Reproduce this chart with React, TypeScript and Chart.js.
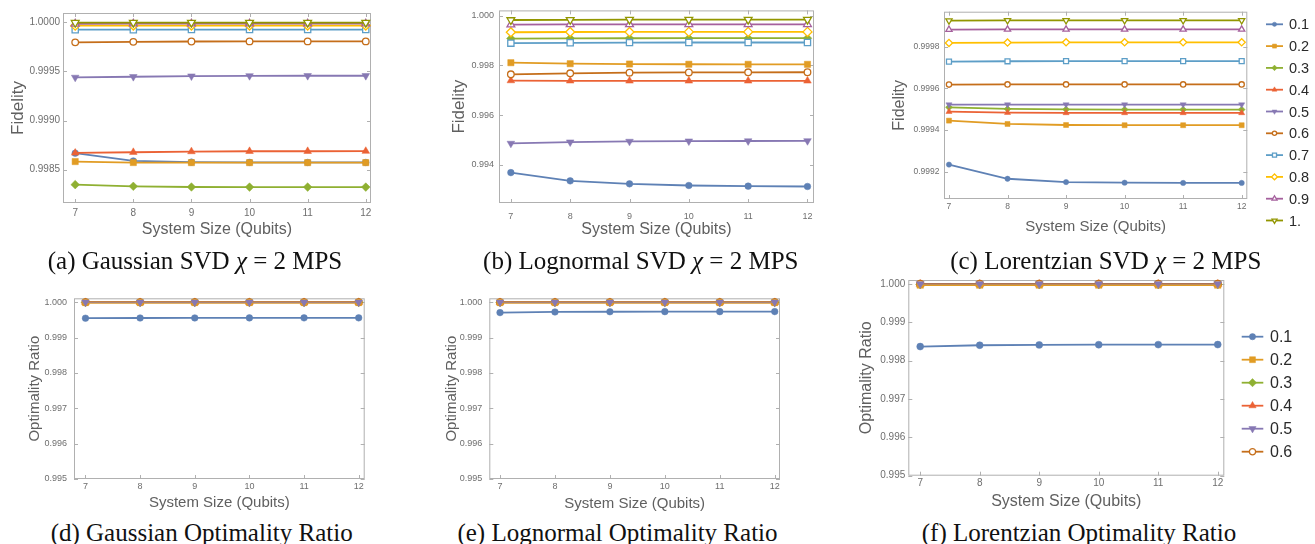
import React, { useEffect, useRef } from 'react';
import { Chart, registerables } from 'chart.js';
Chart.register(...registerables);

// ---------------- data ----------------
const QUBITS = [7, 8, 9, 10, 11, 12];
const X_TICK_LABELS = ['7', '8', '9', '10', '11', '12'];
const SVD_LABELS = ['0.1', '0.2', '0.3', '0.4', '0.5', '0.6', '0.7', '0.8', '0.9', '1.'];
const OPT_LABELS = ['0.1', '0.2', '0.3', '0.4', '0.5', '0.6'];

const GAUSSIAN_SVD = [
  [0.998667, 0.998588, 0.998576, 0.998574, 0.998573, 0.998573],
  [0.998582, 0.998572, 0.998571, 0.998571, 0.998571, 0.998571],
  [0.998347, 0.99833, 0.998323, 0.998322, 0.998322, 0.998322],
  [0.99867, 0.998677, 0.998684, 0.998687, 0.998687, 0.998688],
  [0.999439, 0.999446, 0.999452, 0.999455, 0.999456, 0.999456],
  [0.999796, 0.999801, 0.999805, 0.999806, 0.999806, 0.999806],
  [0.999925, 0.999925, 0.999926, 0.999926, 0.999926, 0.999926],
  [0.999966, 0.999967, 0.999967, 0.999967, 0.999967, 0.999967],
  [0.999985, 0.999986, 0.999986, 0.999986, 0.999986, 0.999986],
  [0.999996, 0.999997, 0.999997, 0.999997, 0.999997, 0.999997],
];
const LOGNORMAL_SVD = [
  [0.993692, 0.99336, 0.99324, 0.993174, 0.993147, 0.993134],
  [0.99811, 0.99807, 0.998057, 0.998048, 0.998045, 0.998044],
  [0.999082, 0.99909, 0.999094, 0.999095, 0.999095, 0.999095],
  [0.997392, 0.997382, 0.997379, 0.997379, 0.997379, 0.997379],
  [0.994864, 0.994917, 0.994944, 0.994957, 0.994963, 0.994968],
  [0.997645, 0.997685, 0.997711, 0.997718, 0.997724, 0.997726],
  [0.998896, 0.998909, 0.998918, 0.998922, 0.998922, 0.998923],
  [0.999335, 0.999345, 0.999348, 0.999349, 0.999349, 0.999349],
  [0.999641, 0.99965, 0.999654, 0.999655, 0.999655, 0.999655],
  [0.999827, 0.999836, 0.99984, 0.999841, 0.999841, 0.999841],
];
const LORENTZIAN_SVD = [
  [0.999234, 0.999166, 0.99915, 0.999147, 0.999146, 0.999146],
  [0.999445, 0.999429, 0.999424, 0.999423, 0.999423, 0.999423],
  [0.999509, 0.999501, 0.999499, 0.999498, 0.999498, 0.999498],
  [0.999488, 0.999483, 0.999482, 0.999482, 0.999482, 0.999482],
  [0.999522, 0.999522, 0.999522, 0.999522, 0.999522, 0.999522],
  [0.999618, 0.999619, 0.999619, 0.999619, 0.999619, 0.999619],
  [0.999728, 0.99973, 0.999731, 0.999731, 0.999731, 0.999731],
  [0.999818, 0.99982, 0.999821, 0.999821, 0.999821, 0.999821],
  [0.999882, 0.999883, 0.999883, 0.999883, 0.999883, 0.999883],
  [0.999925, 0.999926, 0.999926, 0.999926, 0.999926, 0.999926],
];
const GAUSSIAN_OPT = [
  [0.999547, 0.999553, 0.999555, 0.999556, 0.999557, 0.999557],
  [0.99999, 0.99999, 0.99999, 0.99999, 0.99999, 0.99999],
  [0.999995, 0.999995, 0.999995, 0.999995, 0.999995, 0.999995],
  [0.999997, 0.999997, 0.999997, 0.999997, 0.999997, 0.999997],
  [0.999998, 0.999998, 0.999998, 0.999998, 0.999998, 0.999998],
  [1.0, 1.0, 1.0, 1.0, 1.0, 1.0],
];
const LOGNORMAL_OPT = [
  [0.999705, 0.999724, 0.99973, 0.999733, 0.999733, 0.999734],
  [0.99999, 0.99999, 0.99999, 0.99999, 0.99999, 0.99999],
  [0.999995, 0.999995, 0.999995, 0.999995, 0.999995, 0.999995],
  [0.999997, 0.999997, 0.999997, 0.999997, 0.999997, 0.999997],
  [0.999998, 0.999998, 0.999998, 0.999998, 0.999998, 0.999998],
  [1.0, 1.0, 1.0, 1.0, 1.0, 1.0],
];
const LORENTZIAN_OPT = [
  [0.998365, 0.9984, 0.998409, 0.998414, 0.998416, 0.998417],
  [0.99997, 0.99997, 0.99997, 0.99997, 0.99997, 0.99997],
  [0.999985, 0.999985, 0.999985, 0.999985, 0.999985, 0.999985],
  [0.999992, 0.999992, 0.999992, 0.999992, 0.999992, 0.999992],
  [0.999996, 0.999996, 0.999996, 0.999996, 0.999996, 0.999996],
  [1.0, 1.0, 1.0, 1.0, 1.0, 1.0],
];

const Y_TICKS_A = [0.9985, 0.999, 0.9995, 1.0];
const Y_LABELS_A = ['0.9985', '0.9990', '0.9995', '1.0000'];
const Y_TICKS_B = [0.994, 0.996, 0.998, 1.0];
const Y_LABELS_B = ['0.994', '0.996', '0.998', '1.000'];
const Y_TICKS_C = [0.9992, 0.9994, 0.9996, 0.9998];
const Y_LABELS_C = ['0.9992', '0.9994', '0.9996', '0.9998'];
const Y_TICKS_OPT = [0.995, 0.996, 0.997, 0.998, 0.999, 1.0];
const Y_LABELS_OPT = ['0.995', '0.996', '0.997', '0.998', '0.999', '1.000'];

// ---------------- styles ----------------
const COLORS = ['#5E81B5', '#E19C24', '#8FB032', '#EB6235', '#8778B3', '#C56E1A', '#5D9EC7', '#FFBF00', '#A5609D', '#929600'];
const SHAPES = ['circle', 'rect', 'rectRot', 'triangle', 'triangle', 'circle', 'rect', 'rectRot', 'triangle', 'triangle'];
const ROTATIONS = [0, 0, 0, 0, 180, 0, 0, 0, 0, 180];
const FILLED = [true, true, true, true, true, false, false, false, false, false];
const RADII = [3.3, 4.4, 4.3, 4.4, 4.4, 3.3, 4.4, 4.5, 4.5, 4.5];
// draw order (larger = further back); SVD panels: later series on top
const ORDER_SVD = [10, 9, 8, 7, 6, 5, 4, 3, 2, 1];
const ORDER_OPT = [6, 2, 5, 4, 1, 3];
const LINE_W_OPT = [1.8, 1.8, 1.8, 1.8, 0.8, 1.8];

const SANS = '"Liberation Sans", Arial, sans-serif';
const TICK_COLOR = '#6e6e6e';
const TITLE_COLOR = '#606060';
const FRAME_COLOR = '#b0b0b0';

function drawMarker(ctx: CanvasRenderingContext2D, i: number, x: number, y: number, scale: number) {
  const r = RADII[i] * scale;
  ctx.save();
  ctx.translate(x, y);
  ctx.rotate((ROTATIONS[i] * Math.PI) / 180);
  ctx.beginPath();
  const shape = SHAPES[i];
  if (shape === 'circle') ctx.arc(0, 0, r, 0, Math.PI * 2);
  else if (shape === 'rect') {
    const s = r * Math.SQRT1_2;
    ctx.rect(-s, -s, 2 * s, 2 * s);
  } else if (shape === 'rectRot') {
    ctx.moveTo(0, -r); ctx.lineTo(r, 0); ctx.lineTo(0, r); ctx.lineTo(-r, 0); ctx.closePath();
  } else {
    for (let k = 0; k < 3; k++) {
      const a = -Math.PI / 2 + (k * 2 * Math.PI) / 3;
      if (k === 0) ctx.moveTo(Math.cos(a) * r, Math.sin(a) * r);
      else ctx.lineTo(Math.cos(a) * r, Math.sin(a) * r);
    }
    ctx.closePath();
  }
  ctx.fillStyle = FILLED[i] ? COLORS[i] : '#ffffff';
  ctx.fill();
  ctx.strokeStyle = COLORS[i];
  ctx.lineWidth = FILLED[i] ? 0.5 : 1.3;
  ctx.stroke();
  ctx.restore();
}

const framePlugin = {
  id: 'mmaFrame',
  beforeDatasetsDraw(chart: any) {
    const { ctx, chartArea } = chart;
    const { left, right, top, bottom } = chartArea;
    ctx.save();
    ctx.strokeStyle = FRAME_COLOR;
    ctx.lineWidth = 1;
    ctx.strokeRect(left + 0.5, top + 0.5, right - left - 1, bottom - top - 1);
    ctx.beginPath();
    const ys = chart.scales.y;
    ys.ticks.forEach((t: any) => {
      const p = Math.round(ys.getPixelForValue(t.value)) + 0.5;
      ctx.moveTo(left, p); ctx.lineTo(left + 4, p);
      ctx.moveTo(right, p); ctx.lineTo(right - 4, p);
    });
    const xs = chart.scales.x;
    xs.ticks.forEach((t: any) => {
      const p = Math.round(xs.getPixelForValue(t.value)) + 0.5;
      ctx.moveTo(p, bottom); ctx.lineTo(p, bottom - 4);
      ctx.moveTo(p, top); ctx.lineTo(p, top + 4);
    });
    ctx.stroke();
    ctx.restore();
  },
};

const legendPlugin = {
  id: 'mmaLegend',
  afterDraw(chart: any, _args: any, opts: any) {
    if (!opts || !opts.show) return;
    const { ctx } = chart;
    ctx.save();
    ctx.font = `${opts.fontSize}px ${SANS}`;
    ctx.textBaseline = 'middle';
    ctx.textAlign = 'left';
    chart.data.datasets.forEach((ds: any, i: number) => {
      const y = opts.y0 + i * opts.dy;
      ctx.strokeStyle = COLORS[i];
      ctx.lineWidth = 1.8;
      ctx.beginPath();
      ctx.moveTo(opts.x0, y);
      ctx.lineTo(opts.x1, y);
      ctx.stroke();
      drawMarker(ctx, i, (opts.x0 + opts.x1) / 2, y, opts.markerScale);
      ctx.fillStyle = '#2a2a2a';
      ctx.fillText(ds.label, opts.xt, y + 1);
    });
    ctx.restore();
  },
};

type PanelCfg = {
  key: string;
  left: number; top: number; width: number; height: number;
  area: { l: number; t: number; r: number; b: number };
  yTitleX: number; xTitleY: number;
  xMin: number; xMax: number; yMin: number; yMax: number;
  yTicks: number[]; yLabels: string[];
  yTitle: string;
  tickFont: number; titleFont: number; yTitleFont: number;
  xTickPad: number; yTickPad: number;
  markerScale: number;
  series: number[][]; labels: string[];
  order: number[]; lineW?: number[];
  legend?: { x0: number; x1: number; xt: number; y0: number; dy: number; fontSize: number; markerScale: number };
};

const PANELS: PanelCfg[] = [
  {
    key: 'a', left: 0, top: 0, width: 400, height: 245,
    area: { l: 63, t: 13, r: 371, b: 203 }, yTitleX: 18, xTitleY: 230,
    xMin: 6.79, xMax: 12.09, yMin: 0.99816, yMax: 1.000095,
    yTicks: Y_TICKS_A, yLabels: Y_LABELS_A, yTitle: 'Fidelity',
    tickFont: 10, titleFont: 16, yTitleFont: 17, xTickPad: 4, yTickPad: 3, markerScale: 1,
    series: GAUSSIAN_SVD, labels: SVD_LABELS, order: ORDER_SVD,
  },
  {
    key: 'b', left: 420, top: 0, width: 420, height: 245,
    area: { l: 79, t: 9, r: 394, b: 203 }, yTitleX: 39, xTitleY: 230,
    xMin: 6.8, xMax: 12.11, yMin: 0.99247, yMax: 1.000213,
    yTicks: Y_TICKS_B, yLabels: Y_LABELS_B, yTitle: 'Fidelity',
    tickFont: 9, titleFont: 16, yTitleFont: 17, xTickPad: 8, yTickPad: 5, markerScale: 1,
    series: LOGNORMAL_SVD, labels: SVD_LABELS, order: ORDER_SVD,
  },
  {
    key: 'c', left: 840, top: 0, width: 475, height: 245,
    area: { l: 104, t: 11.7, r: 407.3, b: 199 }, yTitleX: 60, xTitleY: 226.5,
    xMin: 6.915, xMax: 12.096, yMin: 0.9990688, yMax: 0.999968,
    yTicks: Y_TICKS_C, yLabels: Y_LABELS_C, yTitle: 'Fidelity',
    tickFont: 8.5, titleFont: 15, yTitleFont: 16, xTickPad: 2.5, yTickPad: 4.5, markerScale: 0.8,
    series: LORENTZIAN_SVD, labels: SVD_LABELS, order: ORDER_SVD,
    legend: { x0: 426, x1: 443, xt: 449, y0: 24.3, dy: 21.8, fontSize: 14.5, markerScale: 0.65 },
  },
  {
    key: 'd', left: 0, top: 262, width: 400, height: 256,
    area: { l: 74, t: 36.3, r: 364.7, b: 217 }, yTitleX: 35, xTitleY: 241.3,
    xMin: 6.79, xMax: 12.11, yMin: 0.995, yMax: 1.00011,
    yTicks: Y_TICKS_OPT, yLabels: Y_LABELS_OPT, yTitle: 'Optimality Ratio',
    tickFont: 9, titleFont: 15, yTitleFont: 15, xTickPad: 2.3, yTickPad: 7, markerScale: 1,
    series: GAUSSIAN_OPT, labels: OPT_LABELS, order: ORDER_OPT, lineW: LINE_W_OPT,
  },
  {
    key: 'e', left: 420, top: 262, width: 420, height: 256,
    area: { l: 69.3, t: 36.3, r: 360, b: 217 }, yTitleX: 31.7, xTitleY: 242.3,
    xMin: 6.805, xMax: 12.096, yMin: 0.995, yMax: 1.00011,
    yTicks: Y_TICKS_OPT, yLabels: Y_LABELS_OPT, yTitle: 'Optimality Ratio',
    tickFont: 9, titleFont: 15, yTitleFont: 15, xTickPad: 2.3, yTickPad: 7, markerScale: 1,
    series: LOGNORMAL_OPT, labels: OPT_LABELS, order: ORDER_OPT, lineW: LINE_W_OPT,
  },
  {
    key: 'f', left: 840, top: 262, width: 475, height: 256,
    area: { l: 68.3, t: 18, r: 384.3, b: 213.7 }, yTitleX: 26.7, xTitleY: 239.7,
    xMin: 6.8, xMax: 12.11, yMin: 0.995, yMax: 1.0001,
    yTicks: Y_TICKS_OPT, yLabels: Y_LABELS_OPT, yTitle: 'Optimality Ratio',
    tickFont: 10, titleFont: 16, yTitleFont: 16, xTickPad: 1.6, yTickPad: 3, markerScale: 1.05,
    series: LORENTZIAN_OPT, labels: OPT_LABELS, order: ORDER_OPT, lineW: LINE_W_OPT,
    legend: { x0: 401.7, x1: 423.3, xt: 430, y0: 74.7, dy: 23, fontSize: 16, markerScale: 0.95 },
  },
];

const CAPTION_TAGS = ['(a)', '(b)', '(c)', '(d)', '(e)', '(f)'];
const CAPTION_NAMES = ['Gaussian', 'Lognormal', 'Lorentzian', 'Gaussian', 'Lognormal', 'Lorentzian'];
const CAPTION_KIND = ['svd', 'svd', 'svd', 'opt', 'opt', 'opt'];
const CAPTION_CX = [195, 640.8, 1105.8, 201.7, 617.5, 1079];
const CAPTION_CY = [261, 261, 261, 533, 533, 533];

function Panel({ cfg }: { cfg: PanelCfg }) {
  const ref = useRef<HTMLCanvasElement>(null);
  useEffect(() => {
    const canvas = ref.current;
    if (!canvas) return;
    const xHalf = cfg.titleFont * 0.6 + 4;
    const yHalf = cfg.yTitleFont * 0.6 + 4;
    const pl = cfg.yTitleX - yHalf;
    const yWidth = cfg.area.l - pl;
    const pb = cfg.height - (cfg.xTitleY + xHalf);
    const xHeight = cfg.height - pb - cfg.area.b;
    const pr = cfg.width - cfg.area.r;
    const pt = cfg.area.t;
    const chart = new Chart(canvas, {
      type: 'line',
      data: {
        datasets: cfg.series.map((vals, i) => ({
          label: cfg.labels[i],
          data: QUBITS.map((q, j) => ({ x: q, y: vals[j] })),
          borderColor: COLORS[i],
          backgroundColor: COLORS[i],
          borderWidth: cfg.lineW ? cfg.lineW[i] : 1.8,
          pointStyle: SHAPES[i] as any,
          pointRotation: ROTATIONS[i],
          pointRadius: RADII[i] * cfg.markerScale,
          pointBackgroundColor: FILLED[i] ? COLORS[i] : '#ffffff',
          pointBorderColor: COLORS[i],
          pointBorderWidth: FILLED[i] ? 0.5 : 1.3,
          tension: 0,
          clip: false as any,
          order: cfg.order[i],
        })),
      },
      options: {
        responsive: false,
        animation: false,
        events: [],
        layout: { padding: { left: pl, right: pr, top: pt, bottom: pb } },
        plugins: {
          legend: { display: false },
          tooltip: { enabled: false },
          mmaLegend: cfg.legend ? { show: true, ...cfg.legend } : { show: false },
        } as any,
        scales: {
          x: {
            type: 'linear',
            min: cfg.xMin,
            max: cfg.xMax,
            afterBuildTicks: (s: any) => { s.ticks = QUBITS.map((v) => ({ value: v })); },
            afterFit: (s: any) => { s.height = xHeight; },
            grid: { display: false, drawTicks: false },
            border: { display: false },
            ticks: {
              autoSkip: false, maxRotation: 0, padding: cfg.xTickPad,
              font: { family: SANS, size: cfg.tickFont }, color: TICK_COLOR,
              callback: (_v: any, idx: number) => X_TICK_LABELS[idx],
            },
            title: {
              display: true, text: 'System Size (Qubits)', color: TITLE_COLOR,
              font: { family: SANS, size: cfg.titleFont }, padding: { top: 4, bottom: 4 },
            },
          },
          y: {
            type: 'linear',
            min: cfg.yMin,
            max: cfg.yMax,
            afterBuildTicks: (s: any) => { s.ticks = cfg.yTicks.map((v) => ({ value: v })); },
            afterFit: (s: any) => { s.width = yWidth; },
            grid: { display: false, drawTicks: false },
            border: { display: false },
            ticks: {
              autoSkip: false, padding: cfg.yTickPad,
              font: { family: SANS, size: cfg.tickFont }, color: TICK_COLOR,
              callback: (_v: any, idx: number) => cfg.yLabels[idx],
            },
            title: {
              display: true, text: cfg.yTitle, color: TITLE_COLOR,
              font: { family: SANS, size: cfg.yTitleFont }, padding: { top: 4, bottom: 4 },
            },
          },
        },
      } as any,
      plugins: [framePlugin, legendPlugin],
    });
    return () => chart.destroy();
  }, [cfg]);
  return (
    <canvas
      ref={ref}
      width={cfg.width}
      height={cfg.height}
      style={{ position: 'absolute', left: cfg.left, top: cfg.top, width: cfg.width, height: cfg.height }}
    />
  );
}

export default function App() {
  return (
    <div style={{ position: 'absolute', left: 0, top: 0, width: 1315, height: 544, background: '#ffffff', overflow: 'hidden' }}>
      {PANELS.map((p) => (
        <Panel key={p.key} cfg={p} />
      ))}
      {CAPTION_TAGS.map((tag, i) => (
        <div
          key={tag}
          style={{
            position: 'absolute',
            left: CAPTION_CX[i],
            top: CAPTION_CY[i] - 14,
            transform: 'translateX(-50%)',
            whiteSpace: 'nowrap',
            fontFamily: '"Liberation Serif", "DejaVu Serif", serif',
            fontSize: 25,
            lineHeight: '28px',
            color: '#111',
          }}
        >
          {CAPTION_KIND[i] === 'svd' ? (
            <span>
              {tag} {CAPTION_NAMES[i]} SVD <i>χ</i>&nbsp;=&nbsp;2 MPS
            </span>
          ) : (
            <span>
              {tag} {CAPTION_NAMES[i]} Optimality Ratio
            </span>
          )}
        </div>
      ))}
    </div>
  );
}
